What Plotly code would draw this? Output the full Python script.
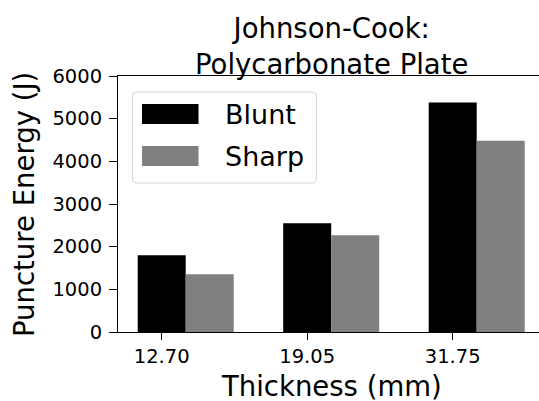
import plotly.graph_objects as go

# Puncture energy (J) by plate thickness for two projectile shapes
thickness_labels = ["12.70", "19.05", "31.75"]
blunt_energy = [1800, 2550, 5380]
sharp_energy = [1355, 2270, 4480]
series_names = ["Blunt", "Sharp"]
series_colors = ["#000000", "#808080"]
y_ticks = [0, 1000, 2000, 3000, 4000, 5000, 6000]

BAR_W = 0.33
FONT = "DejaVu Sans"

W, H = 539, 401
ML, MR, MT, MB = 118, 0, 76, 69
PW, PH = W - ML - MR, H - MT - MB


def px_x(p):
    return (p - ML) / PW


def px_y(p):
    return (H - MB - p) / PH


idx = list(range(len(thickness_labels)))

fig = go.Figure()
fig.add_trace(go.Bar(
    x=idx, y=blunt_energy, width=BAR_W, name=series_names[0],
    marker=dict(color=series_colors[0], line=dict(width=0)), showlegend=False,
))
fig.add_trace(go.Bar(
    x=[i + BAR_W for i in idx], y=sharp_energy, width=BAR_W, name=series_names[1],
    marker=dict(color=series_colors[1], line=dict(width=0)), showlegend=False,
))

# legend box drawn in axes-fraction coordinates
x0, x1, y0, y1 = px_x(132.5), px_x(316.5), px_y(92), px_y(183)
rx, ry = 4 / PW, 4 / PH
frame = (
    f"M{x0 + rx},{y0} L{x1 - rx},{y0} Q{x1},{y0} {x1},{y0 - ry} "
    f"L{x1},{y1 + ry} Q{x1},{y1} {x1 - rx},{y1} "
    f"L{x0 + rx},{y1} Q{x0},{y1} {x0},{y1 + ry} "
    f"L{x0},{y0 - ry} Q{x0},{y0} {x0 + rx},{y0} Z"
)
shapes = [dict(type="path", xref="paper", yref="paper", path=frame,
               line=dict(color="#d6d6d6", width=1), fillcolor="rgba(255,255,255,0.8)")]
annotations = []
for k, (name, col) in enumerate(zip(series_names, series_colors)):
    top = 104 + k * 42
    shapes.append(dict(type="rect", xref="paper", yref="paper",
                       x0=px_x(142), x1=px_x(198.5), y0=px_y(top), y1=px_y(top + 20),
                       line=dict(width=0), fillcolor=col))
    annotations.append(dict(xref="paper", yref="paper", x=px_x(223), y=px_y(top + 10),
                            xanchor="left", yanchor="middle", text=name, showarrow=False,
                            font=dict(family=FONT, size=27, color="#000000")))

# chart title and axis titles
annotations.append(dict(xref="paper", yref="paper", x=px_x(331), y=px_y(82),
                        xanchor="center", yanchor="bottom",
                        text="Johnson-Cook:<br>Polycarbonate Plate", showarrow=False,
                        font=dict(family=FONT, size=27.5, color="#000000")))
annotations.append(dict(xref="paper", yref="paper", x=px_x(331), y=px_y(386),
                        xanchor="center", yanchor="middle", text="Thickness (mm)",
                        showarrow=False, font=dict(family=FONT, size=27.5, color="#000000")))
annotations.append(dict(xref="paper", yref="paper", x=px_x(24), y=px_y(205),
                        xanchor="center", yanchor="middle", text="Puncture Energy (J)",
                        textangle=-90, showarrow=False,
                        font=dict(family=FONT, size=27.5, color="#000000")))

fig.update_layout(
    width=W, height=H,
    margin=dict(l=ML, r=MR, t=MT, b=MB),
    paper_bgcolor="white", plot_bgcolor="white",
    barmode="overlay",
    font=dict(family=FONT, color="#000000"),
    shapes=shapes, annotations=annotations,
    xaxis=dict(range=[(ML - 161.7) / 145.5, (W - 161.7) / 145.5],
               tickmode="array", tickvals=idx, ticktext=thickness_labels,
               showline=True, linecolor="#000000", linewidth=1, mirror=True,
               ticks="outside", ticklen=7, tickwidth=1, tickcolor="#000000",
               showgrid=False, zeroline=False,
               tickfont=dict(family=FONT, size=19.5, color="#000000")),
    yaxis=dict(range=[0, 6000], tickmode="array", tickvals=y_ticks,
               showline=True, linecolor="#000000", linewidth=1,
               ticks="outside", ticklen=8, tickwidth=1, tickcolor="#000000",
               ticklabelstandoff=3,
               showgrid=False, zeroline=False,
               tickfont=dict(family=FONT, size=19.5, color="#000000")),
)

fig.write_html("out.html")
